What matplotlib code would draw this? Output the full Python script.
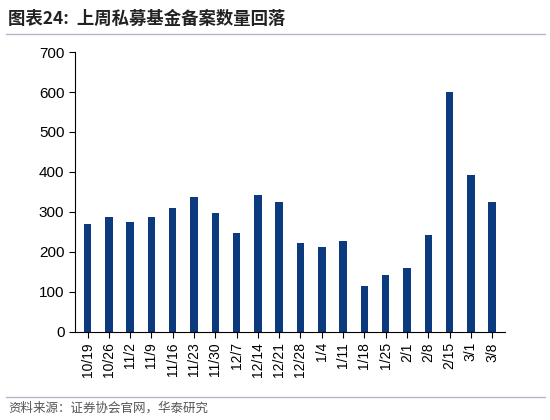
import matplotlib
matplotlib.use("Agg")
import matplotlib.pyplot as plt
from matplotlib.lines import Line2D

plt.rcParams['font.family'] = ['Noto Sans CJK SC', 'DejaVu Sans']

dates = ["10/19","10/26","11/2","11/9","11/16","11/23","11/30","12/7","12/14","12/21",
         "12/28","1/4","1/11","1/18","1/25","2/1","2/8","2/15","3/1","3/8"]
values = [270,287,275,287,310,338,298,247,342,325,222,211,227,115,143,159,243,600,393,325]

fig = plt.figure(figsize=(5.5,4.2), dpi=100)
ax = fig.add_axes([0.136,0.21,0.782,0.666])
ax.bar(range(len(dates)), values, width=0.35, color='#0B3A7E')
ax.set_xlim(-0.6, len(dates)-0.4)
ax.set_ylim(0,700)
ax.set_yticks(range(0,701,100))
ax.set_xticks(range(len(dates)))
ax.set_xticklabels(dates, rotation=90, fontsize=10, family='Liberation Sans')
ax.tick_params(axis='y', labelsize=11)
for l in ax.get_yticklabels():
    l.set_family('Liberation Sans')
for s in ['top','right']:
    ax.spines[s].set_visible(False)
ax.tick_params(axis='x', length=4, direction='out')
ax.tick_params(axis='y', length=4, direction='out')

fig.text(0.015,0.955,"图表24:  上周私募基金备案数量回落", fontsize=12.5, fontweight='bold', color='#222222', va='center')
fig.add_artist(Line2D([0.01,0.99],[0.918,0.918], color='#B0B8C8', lw=1))
fig.add_artist(Line2D([0.01,0.99],[0.055,0.055], color='#B0B8C8', lw=1))
fig.text(0.015,0.028,"资料来源：证券协会官网，华泰研究", fontsize=9, color='#555555', va='center')
fig.savefig("out.png", dpi=100)
